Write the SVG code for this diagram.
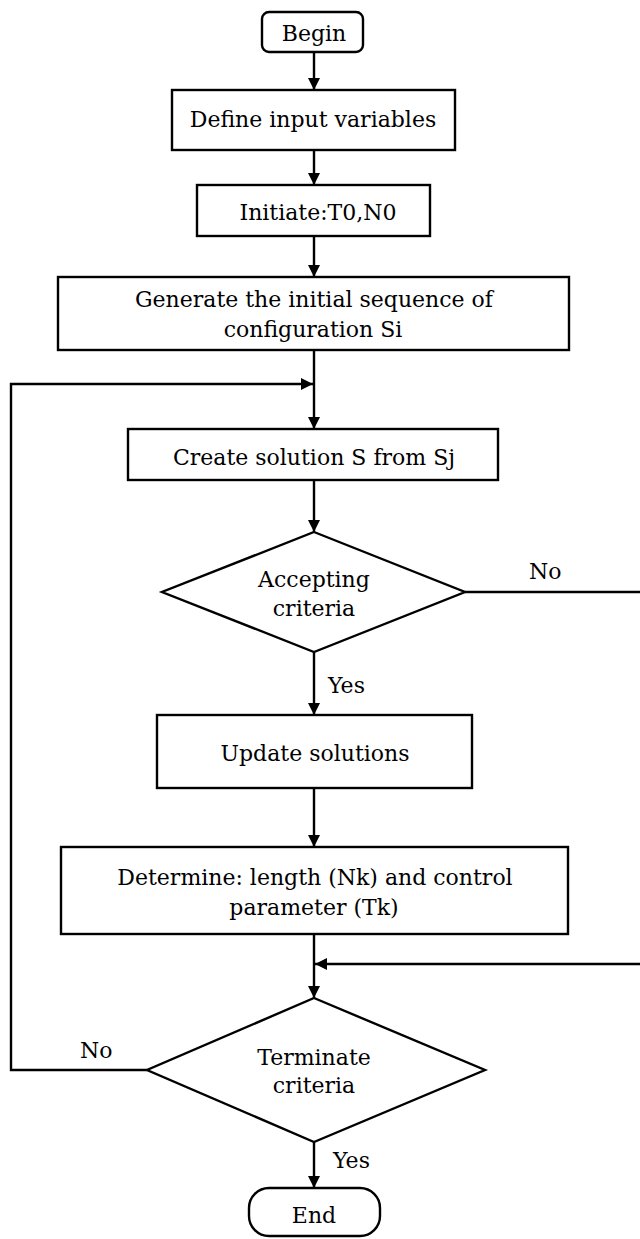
<svg xmlns="http://www.w3.org/2000/svg" width="640" height="1239" viewBox="0 0 640 1239">
<style>
.box{fill:#fff;stroke:#000;stroke-width:2.4}
.t{font-family:"DejaVu Serif","Liberation Serif",serif;font-size:22px;fill:#000}
.m{text-anchor:middle}
.c{fill:none;stroke:#000;stroke-width:2.4}
</style>
<defs>
<marker id="ah" markerUnits="userSpaceOnUse" markerWidth="12" markerHeight="12" refX="12" refY="6" orient="auto">
<path d="M0,0 L12,6 L0,12 z" fill="#000"/>
</marker>
</defs>
<rect width="640" height="1239" fill="#fff"/>
<g id="connectors">
<line class="c" x1="314" y1="52" x2="314" y2="90" marker-end="url(#ah)"/>
<line class="c" x1="314" y1="150" x2="314" y2="185" marker-end="url(#ah)"/>
<line class="c" x1="314" y1="236" x2="314" y2="277" marker-end="url(#ah)"/>
<line class="c" x1="314" y1="350" x2="314" y2="429" marker-end="url(#ah)"/>
<path class="c" d="M147,1070 H11 V384 H313" marker-end="url(#ah)"/>
<line class="c" x1="314" y1="480" x2="314" y2="532" marker-end="url(#ah)"/>
<line class="c" x1="314" y1="652" x2="314" y2="715" marker-end="url(#ah)"/>
<path class="c" d="M465,592 H644 V964 H315" marker-end="url(#ah)"/>
<line class="c" x1="314" y1="788" x2="314" y2="847" marker-end="url(#ah)"/>
<line class="c" x1="314" y1="934" x2="314" y2="998" marker-end="url(#ah)"/>
<line class="c" x1="314" y1="1142" x2="314" y2="1188" marker-end="url(#ah)"/>
<text class="t" x="328" y="693">Yes</text>
<text class="t" x="529" y="579">No</text>
<text class="t" x="80" y="1058">No</text>
<text class="t" x="333" y="1168">Yes</text>
</g>
<g id="begin">
<rect class="box" x="262" y="12" width="101" height="40" rx="7"/>
<text class="t m" x="314" y="41">Begin</text>
</g>
<g id="define">
<rect class="box" x="172" y="90" width="283" height="60"/>
<text class="t m" x="313" y="127">Define input variables</text>
</g>
<g id="initiate">
<rect class="box" x="197" y="185" width="233" height="51"/>
<text class="t m" x="318" y="220">Initiate:T0,N0</text>
</g>
<g id="generate">
<rect class="box" x="58" y="277" width="511" height="73"/>
<text class="t m" x="314" y="307">Generate the initial sequence of</text>
<text class="t m" x="313" y="337">configuration Si</text>
</g>
<g id="create">
<rect class="box" x="128" y="429" width="370" height="51"/>
<text class="t m" x="314" y="465">Create solution S from Sj</text>
</g>
<g id="accepting">
<polygon class="box" points="314,532 465,592 314,652 162,592"/>
<text class="t m" x="314" y="587">Accepting</text>
<text class="t m" x="314" y="616">criteria</text>
</g>
<g id="update">
<rect class="box" x="157" y="715" width="315" height="73"/>
<text class="t m" x="315" y="761">Update solutions</text>
</g>
<g id="determine">
<rect class="box" x="61" y="847" width="507" height="87"/>
<text class="t m" x="315" y="885">Determine: length (Nk) and control</text>
<text class="t m" x="314" y="915">parameter (Tk)</text>
</g>
<g id="terminate">
<polygon class="box" points="314,998 485,1070 314,1142 147,1070"/>
<text class="t m" x="314" y="1065">Terminate</text>
<text class="t m" x="314" y="1093">criteria</text>
</g>
<g id="end">
<rect class="box" x="249" y="1188" width="131" height="48" rx="20"/>
<text class="t m" x="314" y="1223">End</text>
</g>
</svg>
